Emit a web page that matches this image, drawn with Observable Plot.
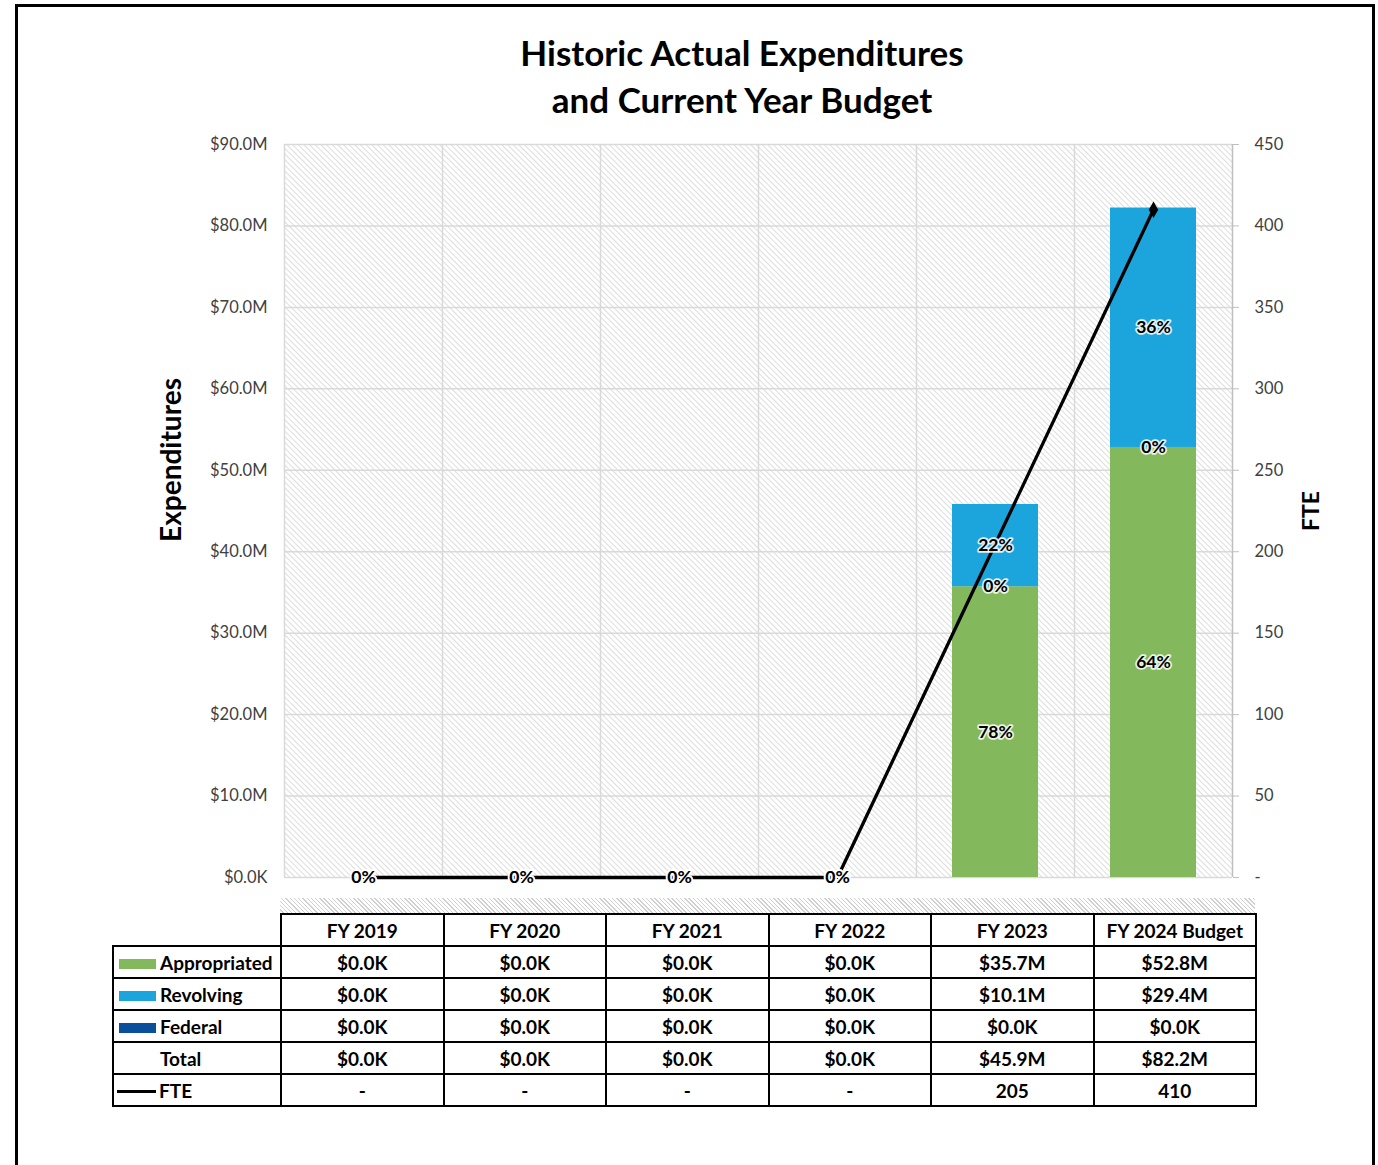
<!DOCTYPE html>
<html>
<head>
<meta charset="utf-8">
<script src="https://cdn.jsdelivr.net/npm/d3@7"></script>
<script src="https://cdn.jsdelivr.net/npm/@observablehq/plot@0.6"></script>
<style>
  html, body { margin: 0; padding: 0; background: #fff; }
  body { width: 1378px; height: 1165px; position: relative; overflow: hidden; font-family: Lato, "Open Sans", sans-serif; }
  #frame { position: absolute; left: 15px; top: 4px; width: 1360px; height: 1220px; border: 3px solid #000; box-sizing: border-box; }
  #title { position: absolute; left: 0; width: 1484px; top: 29px; text-align: center; font-weight: 700; font-size: 35px; line-height: 47px; color: #000; }
  #chart { position: absolute; left: 0; top: 0; }
  .ylab { position: absolute; font-weight: 700; color: #000; transform: rotate(-90deg); transform-origin: center center; white-space: nowrap; text-align: center; }
  #strip { position: absolute; left: 280px; top: 898px; width: 975px; height: 15px;
    background: repeating-linear-gradient(45deg, #fff 0px, #fff 2px, #d0d0d0 2px, #d0d0d0 3px); }
  table { position: absolute; left: 112px; top: 913px; border-collapse: collapse; table-layout: fixed; font-weight: 700; font-size: 19px; color: #000; }
  td { border: 2px solid #000; height: 30px; padding: 0; text-align: center; white-space: nowrap; }
  td.lab { text-align: left; padding-left: 5px; }
  td.blank { border: none; border-right: 2px solid #000; }
  .sw { display: inline-block; width: 37px; height: 10px; margin-right: 4px; vertical-align: 1px; }
  .ln { display: inline-block; width: 39px; height: 3px; background: #000; margin-right: 3px; vertical-align: 5px; }
</style>
</head>
<body>
<div id="frame"></div>
<div id="title">Historic Actual Expenditures<br>and Current Year Budget</div>
<div id="chart"></div>
<div class="ylab" id="ylabL" style="left:70px; top:443px; width:200px; font-size:28px;">Expenditures</div>
<div class="ylab" id="ylabR" style="left:1270px; top:497px; width:80px; font-size:23px;">FTE</div>
<div id="strip"></div>
<div id="tbl"></div>
<script>
// ---- data ----
const years = ["FY 2019", "FY 2020", "FY 2021", "FY 2022", "FY 2023", "FY 2024 Budget"];
const appropriated = [0, 0, 0, 0, 35.7, 52.8];   // $M
const revolving    = [0, 0, 0, 0, 10.1, 29.4];   // $M
const federal      = [0, 0, 0, 0, 0, 0];         // $M
const totals       = [0, 0, 0, 0, 45.9, 82.2];   // $M
const fte          = [0, 0, 0, 0, 205, 410];
const moneyTicks   = [0, 10, 20, 30, 40, 50, 60, 70, 80, 90];
const fteTicks     = [0, 50, 100, 150, 200, 250, 300, 350, 400, 450];
const seriesOrder  = ["Appropriated", "Federal", "Revolving"];
const seriesColors = ["#84b85c", "#0a4f9c", "#1ca5dd"];

// ---- derived tables ----
const seriesValues = {Appropriated: appropriated, Federal: federal, Revolving: revolving};
const stackRows = [];
years.forEach((y, i) => {
  const tot = appropriated[i] + revolving[i] + federal[i];
  seriesOrder.forEach(s => stackRows.push({year: y, series: s, value: seriesValues[s][i], pct: tot ? seriesValues[s][i] / tot : 0}));
});
const fteRows = years.map((y, i) => ({year: y, fte: fte[i]}));
const fteScale = 90 / 450; // FTE -> money axis units

const W = 1378, H = 900, ML = 284, MR = 146, MT = 144, MB = H - 877;
const step = (W - ML - MR) / years.length;
const moneyFmt = d => d === 0 ? "$0.0K" : `$${d.toFixed(1)}M`;

const plot = Plot.plot({
  width: W, height: H,
  marginLeft: ML, marginRight: MR, marginTop: MT, marginBottom: MB,
  style: {fontFamily: "Lato, 'Open Sans', sans-serif", fontSize: "16.5px", color: "#404040", background: "transparent"},
  x: {type: "band", domain: years, padding: 0, axis: null},
  y: {domain: [0, 90], axis: null},
  color: {domain: seriesOrder, range: seriesColors},
  marks: [
    Plot.frame({fill: "url(#hatch)", stroke: null}),
    Plot.gridY(moneyTicks, {stroke: "#d9d9d9", strokeOpacity: 1, strokeWidth: 1.5}),
    Plot.ruleX(years, {x: d => d, dx: -step / 2, stroke: "#d9d9d9", strokeWidth: 1.5}),
    Plot.ruleX([years[years.length - 1]], {x: d => d, dx: step / 2, stroke: "#bfbfbf", strokeWidth: 1.5}),
    Plot.barY(stackRows, Plot.stackY({x: "year", y: "value", fill: "series", z: "series", order: seriesOrder, insetLeft: 36, insetRight: 36})),
    Plot.axisY(moneyTicks, {anchor: "left", label: null, tickSize: 0, tickPadding: 17, tickFormat: moneyFmt, fill: "#404040"}),
    Plot.axisY(moneyTicks, {anchor: "right", label: null, tickSize: 6, tickPadding: 16, stroke: "#bfbfbf", fill: "#404040",
      tickFormat: d => { const v = fteTicks[moneyTicks.indexOf(d)]; return v === 0 ? "-" : String(v); }}),
    Plot.line(fteRows, {x: "year", y: d => d.fte * fteScale, stroke: "#000", strokeWidth: 3.3}),
    Plot.dot(fteRows.slice(-1), {x: "year", y: d => d.fte * fteScale, symbol: "diamond", r: 5, fill: "#000", stroke: null}),
    Plot.text(stackRows, Plot.stackY({x: "year", y: "value", z: "series", order: seriesOrder,
      text: d => `${Math.round(d.pct * 100)}%`, fill: "#000", stroke: "white", strokeWidth: 3.5, strokeOpacity: 0.85,
      fontWeight: "bold", fontSize: 17.5}))
  ]
});

// hatch pattern for plot background
const svg = d3.select(plot);
const defs = svg.insert("defs", ":first-child");
const pat = defs.append("pattern").attr("id", "hatch").attr("width", 4).attr("height", 4)
  .attr("patternUnits", "userSpaceOnUse").attr("patternTransform", "rotate(-45)");
pat.append("rect").attr("width", 4).attr("height", 4).attr("fill", "#fff");
pat.append("line").attr("x1", 0).attr("y1", 0).attr("x2", 0).attr("y2", 4).attr("stroke", "#cfcfcf").attr("stroke-width", 1.4);
document.getElementById("chart").appendChild(plot);

// ---- data table (legend + values) ----
const fmtCell = v => v === 0 ? "$0.0K" : `$${v.toFixed(1)}M`;
const rowsDef = [
  {label: "Appropriated", key: appropriated, sw: seriesColors[0]},
  {label: "Revolving", key: revolving, sw: seriesColors[2]},
  {label: "Federal", key: federal, sw: seriesColors[1]},
  {label: "Total", key: totals, sw: null},
];
let html = `<table><colgroup><col style="width:168px">${years.map(() => `<col style="width:162.5px">`).join("")}</colgroup>`;
html += `<tr><td class="blank"></td>${years.map(y => `<td>${y}</td>`).join("")}</tr>`;
rowsDef.forEach(r => {
  const sw = r.sw ? `<span class="sw" style="background:${r.sw}"></span>` : `<span class="sw"></span>`;
  html += `<tr><td class="lab">${sw}${r.label}</td>${r.key.map(v => `<td>${fmtCell(v)}</td>`).join("")}</tr>`;
});
html += `<tr><td class="lab" style="padding-left:3px"><span class="ln"></span>FTE</td>${fte.map(v => `<td>${v === 0 ? "-" : v}</td>`).join("")}</tr>`;
html += `</table>`;
document.getElementById("tbl").innerHTML = html;
</script>
</body>
</html>
